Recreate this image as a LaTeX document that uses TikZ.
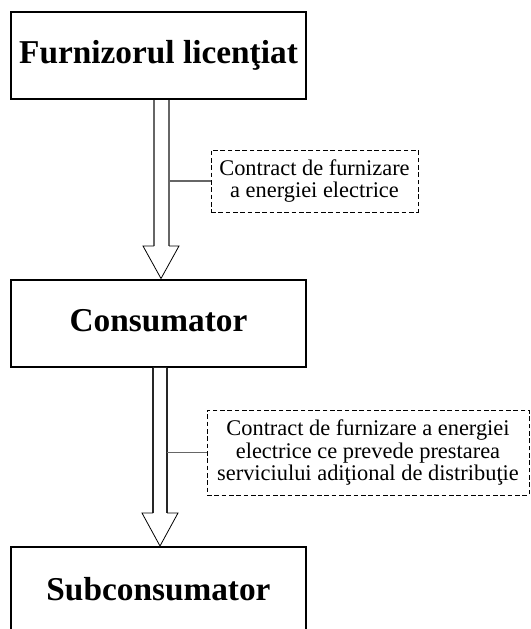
\documentclass[tikz,border=0pt]{standalone}
\usepackage{fontspec}
\setmainfont{Liberation Serif}
\usetikzlibrary{calc}
\begin{document}
\begin{tikzpicture}[x=0.75pt,y=-0.75pt,
  mainbox/.style={draw=black,line width=1.5pt,fill=white,minimum width=221.25pt,inner sep=0pt},
  titletext/.style={font=\fontsize{25}{30}\selectfont\bfseries,inner sep=0pt,anchor=base},
  labelbox/.style={draw=black,dashed,dash pattern=on 3.5pt off 2pt,line width=0.6pt,align=center,
    font=\fontsize{16.8}{17.2}\selectfont,inner sep=0pt},
  shaftgray/.style={draw=black!60,line width=1.1pt},
  shaftblack/.style={draw=black!85,line width=0.9pt},
  headline/.style={draw=black,line width=0.6pt,line join=miter},
  conn/.style={draw=black!60,line width=1.1pt}]
\clip (0,0) rectangle (531,629);
\fill[white] (0,0) rectangle (531,629);

% boxes
\node[mainbox,minimum height=65.25pt] (f) at (158.5,55.5) {};
\node[titletext] (ft) at (158.5,63) {Furnizorul licenţiat};
\node[mainbox,minimum height=65.6pt] (c) at (158.5,323.25) {};
\node[titletext] (ct) at (158.5,331) {Consumator};
\node[mainbox,minimum height=90pt] (s) at (158.5,607) {};
\node[titletext] (st) at (158.5,600) {Subconsumator};

% labels
\node[labelbox,minimum width=155.25pt,minimum height=46.5pt] (l1) at (314.5,181)
  {Contract de furnizare\\a energiei electrice};
\node[labelbox,minimum width=241.5pt,minimum height=63.75pt] (l2) at (368,452.5)
  {Contract de furnizare a energiei\\electrice ce prevede prestarea\\serviciului adiţional de distribuţie};

% arrow 1
\coordinate (a1l) at ($(f.south)+(-4.5,0)$);
\coordinate (a1r) at ($(f.south)+(10.5,0)$);
\coordinate (a1t) at ($(c.north)+(2.5,0)$);
\fill[white] (a1l) -- (a1l |- 0,246) -- (143,246) -- (a1t) -- (179,246) -- (a1r |- 0,246) -- (a1r) -- cycle;
\draw[shaftgray] (a1l) -- (a1l |- 0,246);
\draw[shaftgray] (a1r) -- (a1r |- 0,246);
\draw[headline] (a1l |- 0,246) -- (143,246) -- (a1t) -- (179,246) -- (a1r |- 0,246);
\draw[conn] (l1.west) -- (l1.west -| a1r);

% arrow 2
\coordinate (a2l) at ($(c.south)+(-5.5,0)$);
\coordinate (a2r) at ($(c.south)+(8.5,0)$);
\coordinate (a2t) at ($(s.north)+(1.5,0)$);
\fill[white] (a2l) -- (a2l |- 0,513) -- (142,513) -- (a2t) -- (178,513) -- (a2r |- 0,513) -- (a2r) -- cycle;
\draw[shaftblack] (a2l) -- (a2l |- 0,513);
\draw[shaftblack] (a2r) -- (a2r |- 0,513);
\draw[headline] (a2l |- 0,513) -- (142,513) -- (a2t) -- (178,513) -- (a2r |- 0,513);
\draw[conn] (l2.west) -- (l2.west -| a2r);
\end{tikzpicture}
\end{document}
